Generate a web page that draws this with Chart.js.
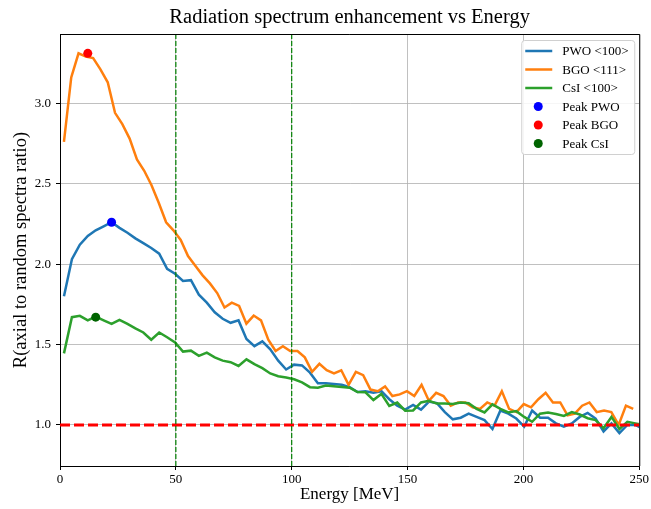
<!DOCTYPE html>
<html>
<head>
<meta charset="utf-8">
<title>Radiation spectrum enhancement vs Energy</title>
<script src="https://cdn.jsdelivr.net/npm/chart.js@4.4.1/dist/chart.umd.min.js"></script>
<style>
  html, body { margin: 0; padding: 0; background: #fff; }
  #wrap { width: 651px; height: 509px; }
</style>
</head>
<body>
<div id="wrap"><canvas id="spectrumChart" width="651" height="509"></canvas></div>
<script>
// Energy bins [MeV] - PWO and CsI share one binning, BGO has its own
const energyPWO = [1.71, 5.14, 8.56, 11.99, 15.41, 18.84, 22.26, 25.68, 29.11, 32.53,
    35.96, 39.38, 42.81, 46.23, 49.66, 53.08, 56.51, 59.93, 63.36, 66.78,
    70.21, 73.63, 77.05, 80.48, 83.90, 87.33, 90.75, 94.18, 97.60, 101.03,
    104.45, 107.88, 111.30, 114.73, 118.15, 121.58, 125.00, 128.42, 131.85, 135.27,
    138.70, 142.12, 145.55, 148.97, 152.40, 155.82, 159.25, 162.67, 166.10, 169.52,
    172.95, 176.37, 179.79, 183.22, 186.64, 190.07, 193.49, 196.92, 200.34, 203.77,
    207.19, 210.62, 214.04, 217.47, 220.89, 224.32, 227.74, 231.16, 234.59, 238.01,
    241.44, 244.86, 248.29, 251.71];
const energyBGO = [1.7, 4.85, 8.0, 11.15, 14.3, 17.45, 20.6, 23.75, 26.9, 30.05,
    33.2, 36.35, 39.5, 42.65, 45.8, 48.95, 52.1, 55.25, 58.4, 61.55,
    64.7, 67.85, 71.0, 74.15, 77.3, 80.45, 83.6, 86.75, 89.9, 93.05,
    96.2, 99.35, 102.5, 105.65, 108.8, 111.95, 115.1, 118.25, 121.4, 124.55,
    127.7, 130.85, 134.0, 137.15, 140.3, 143.45, 146.6, 149.75, 152.9, 156.05,
    159.2, 162.35, 165.5, 168.65, 171.8, 174.95, 178.1, 181.25, 184.4, 187.55,
    190.7, 193.85, 197.0, 200.15, 203.3, 206.45, 209.6, 212.75, 215.9, 219.05,
    222.2, 225.35, 228.5, 231.65, 234.8, 237.95, 241.1, 244.25, 247.4];

// R = axial / random spectra ratio
const ratioPWO = [1.80, 2.03, 2.12, 2.175, 2.21, 2.235, 2.26, 2.225, 2.195, 2.16,
    2.13, 2.10, 2.065, 1.97, 1.94, 1.895, 1.90, 1.81, 1.76, 1.70,
    1.66, 1.635, 1.65, 1.535, 1.49, 1.52, 1.47, 1.40, 1.345, 1.375,
    1.37, 1.325, 1.26, 1.26, 1.255, 1.25, 1.235, 1.205, 1.21, 1.20,
    1.21, 1.16, 1.12, 1.095, 1.125, 1.095, 1.145, 1.135, 1.08, 1.035,
    1.045, 1.07, 1.05, 1.03, 0.975, 1.09, 1.07, 1.04, 0.99, 1.09,
    1.045, 1.045, 1.01, 0.99, 1.01, 1.05, 1.075, 1.04, 0.96, 1.01,
    0.95, 1.0, 1.0, 0.975];
const ratioBGO = [2.76, 3.16, 3.31, 3.29, 3.28, 3.21, 3.13, 2.94, 2.87, 2.78,
    2.65, 2.58, 2.49, 2.38, 2.26, 2.21, 2.15, 2.05, 1.99, 1.93,
    1.88, 1.82, 1.73, 1.76, 1.74, 1.63, 1.68, 1.65, 1.53, 1.46,
    1.49, 1.46, 1.46, 1.42, 1.33, 1.38, 1.34, 1.32, 1.34, 1.25,
    1.33, 1.31, 1.22, 1.21, 1.24, 1.18, 1.19, 1.21, 1.18, 1.25,
    1.15, 1.20, 1.18, 1.12, 1.14, 1.14, 1.11, 1.10, 1.14, 1.12,
    1.21, 1.10, 1.08, 1.13, 1.11, 1.16, 1.20, 1.14, 1.14, 1.06,
    1.07, 1.12, 1.14, 1.08, 1.09, 1.08, 1.00, 1.12, 1.10];
const ratioCsI = [1.445, 1.67, 1.678, 1.65, 1.673, 1.65, 1.628, 1.653, 1.628, 1.60,
    1.575, 1.53, 1.575, 1.545, 1.513, 1.456, 1.462, 1.43, 1.45, 1.42,
    1.40, 1.39, 1.367, 1.408, 1.378, 1.353, 1.32, 1.303, 1.295, 1.284,
    1.265, 1.235, 1.232, 1.245, 1.24, 1.236, 1.232, 1.205, 1.203, 1.155,
    1.193, 1.118, 1.139, 1.089, 1.09, 1.14, 1.15, 1.133, 1.133, 1.13,
    1.14, 1.135, 1.10, 1.078, 1.128, 1.10, 1.078, 1.086, 1.05, 1.02,
    1.07, 1.078, 1.068, 1.056, 1.08, 1.065, 1.042, 1.03, 0.98, 1.05,
    0.975, 1.02, 1.01, 1.0];

// Peak markers (PWO, BGO, CsI)
const peakNames = ['Peak PWO', 'Peak BGO', 'Peak CsI'];
const peakEnergy = [22.26, 11.99, 15.41];
const peakRatio = [2.26, 3.31, 1.67];
const peakColors = ['#0000ff', '#ff0000', '#006400'];

// Reference lines and axes
const energyMarks = [50, 100];
const unityRatio = 1.0;
const xRange = [0, 250];
const yRange = [0.745, 3.43];
const xTicks = [0, 50, 100, 150, 200, 250];
const yTicks = [1.0, 1.5, 2.0, 2.5, 3.0];

const serif = "'Liberation Serif', 'Times New Roman', serif";

function toPoints(xs, ys) {
    return xs.map((x, i) => ({ x: x, y: ys[i] }));
}

function seriesLine(label, xs, ys, color, order) {
    return {
        label: label,
        data: toPoints(xs, ys),
        borderColor: color,
        backgroundColor: color,
        borderWidth: 2.5,
        pointRadius: 0,
        tension: 0,
        fill: false,
        order: order,
        legendKind: 'line'
    };
}

const datasets = [
    seriesLine('PWO <100>', energyPWO, ratioPWO, '#1f77b4', 4),
    seriesLine('BGO <111>', energyBGO, ratioBGO, '#ff7f0e', 3),
    seriesLine('CsI <100>', energyPWO, ratioCsI, '#2ca02c', 2)
];

peakNames.forEach((name, i) => {
    datasets.push({
        label: name,
        data: [{ x: peakEnergy[i], y: peakRatio[i] }],
        showLine: false,
        pointRadius: 4.5,
        pointBorderWidth: 0,
        pointBackgroundColor: peakColors[i],
        borderColor: peakColors[i],
        backgroundColor: peakColors[i],
        order: 1,
        legendKind: 'point'
    });
});

// vertical dashed lines at 50 and 100 MeV
energyMarks.forEach(e => {
    datasets.push({
        label: '',
        data: [{ x: e, y: yRange[0] }, { x: e, y: yRange[1] }],
        borderColor: '#008000',
        borderWidth: 1.2,
        borderDash: [5, 2],
        pointRadius: 0,
        order: 0
    });
});

// horizontal red dashed line at R = 1
datasets.push({
    label: '',
    data: [{ x: xRange[0], y: unityRatio }, { x: xRange[1], y: unityRatio }],
    borderColor: '#ff0000',
    borderWidth: 3,
    borderDash: [10, 4],
    pointRadius: 0,
    order: 0
});

// top and right spines
const framePlugin = {
    id: 'frame',
    afterDatasetsDraw(chart) {
        const { ctx, chartArea: a } = chart;
        ctx.save();
        ctx.strokeStyle = '#000';
        ctx.lineWidth = 1;
        ctx.beginPath();
        ctx.moveTo(a.left, a.top + 0.5);
        ctx.lineTo(a.right + 0.5, a.top + 0.5);
        ctx.lineTo(a.right + 0.5, a.bottom);
        ctx.stroke();
        ctx.restore();
    }
};

// matplotlib-style legend box in the upper right corner
const boxLegendPlugin = {
    id: 'boxLegend',
    afterDraw(chart) {
        const { ctx, chartArea: a } = chart;
        const items = chart.data.datasets.filter(d => d.legendKind);
        const left = a.right - 118, top = a.top + 6;
        const w = 113, rowH = 18.5, h = rowH * items.length + 3;
        ctx.save();
        ctx.fillStyle = 'rgba(255,255,255,0.85)';
        ctx.strokeStyle = '#d0d0d0';
        ctx.lineWidth = 1;
        ctx.beginPath();
        ctx.roundRect(left + 0.5, top + 0.5, w, h, 3);
        ctx.fill();
        ctx.stroke();
        ctx.font = '13px ' + serif;
        ctx.textBaseline = 'middle';
        ctx.fillStyle = '#000';
        items.forEach((d, i) => {
            const y = top + 11 + i * rowH;
            if (d.legendKind === 'line') {
                ctx.strokeStyle = d.borderColor;
                ctx.lineWidth = 2.5;
                ctx.beginPath();
                ctx.moveTo(left + 4, y);
                ctx.lineTo(left + 31, y);
                ctx.stroke();
            } else {
                ctx.fillStyle = d.pointBackgroundColor;
                ctx.beginPath();
                ctx.arc(left + 17, y, 4.5, 0, Math.PI * 2);
                ctx.fill();
            }
            ctx.fillStyle = '#000';
            ctx.fillText(d.label, left + 41, y + 1);
        });
        ctx.restore();
    }
};

const gridStyle = { color: '#b0b0b0', lineWidth: 0.8, tickColor: '#000', tickLength: 4, tickWidth: 1 };

const chartConfig = {
    type: 'line',
    data: { datasets: datasets },
    options: {
        responsive: false,
        animation: false,
        layout: { padding: { top: 0, right: 11, bottom: 0, left: 0 } },
        plugins: {
            legend: { display: false },
            tooltip: { enabled: false },
            title: {
                display: true,
                fullSize: false,
                text: 'Radiation spectrum enhancement vs Energy',
                color: '#000',
                font: { family: serif, size: 20.5, weight: 'normal' },
                padding: { top: 5.5, bottom: 3.9 }
            }
        },
        scales: {
            x: {
                type: 'linear',
                min: xRange[0],
                max: xRange[1],
                afterBuildTicks: s => { s.ticks = xTicks.map(v => ({ value: v })); },
                afterFit: s => { s.height = 43; },
                ticks: {
                    color: '#000',
                    font: { family: serif, size: 13 },
                    padding: 2,
                    maxRotation: 0,
                    callback: v => String(v)
                },
                grid: gridStyle,
                border: { color: '#000', width: 1 },
                title: {
                    display: true,
                    text: 'Energy [MeV]',
                    color: '#000',
                    font: { family: serif, size: 17 },
                    padding: { top: 0, bottom: 4 }
                }
            },
            y: {
                type: 'linear',
                min: yRange[0],
                max: yRange[1],
                afterBuildTicks: s => { s.ticks = yTicks.map(v => ({ value: v })); },
                afterFit: s => { s.width = 60; },
                ticks: {
                    color: '#000',
                    font: { family: serif, size: 13 },
                    padding: 5,
                    callback: v => Number(v).toFixed(1)
                },
                grid: gridStyle,
                border: { color: '#000', width: 1 },
                title: {
                    display: true,
                    text: 'R(axial to random spectra ratio)',
                    color: '#000',
                    font: { family: serif, size: 18.5 },
                    padding: { top: 10.5, bottom: 0 }
                }
            }
        }
    },
    plugins: [framePlugin, boxLegendPlugin]
};

window.addEventListener('load', () => {
    const canvas = document.getElementById('spectrumChart');
    if (canvas) {
        new Chart(canvas, chartConfig);
    } else {
        console.error('Chart canvas element not found.');
    }
});
</script>
</body>
</html>
